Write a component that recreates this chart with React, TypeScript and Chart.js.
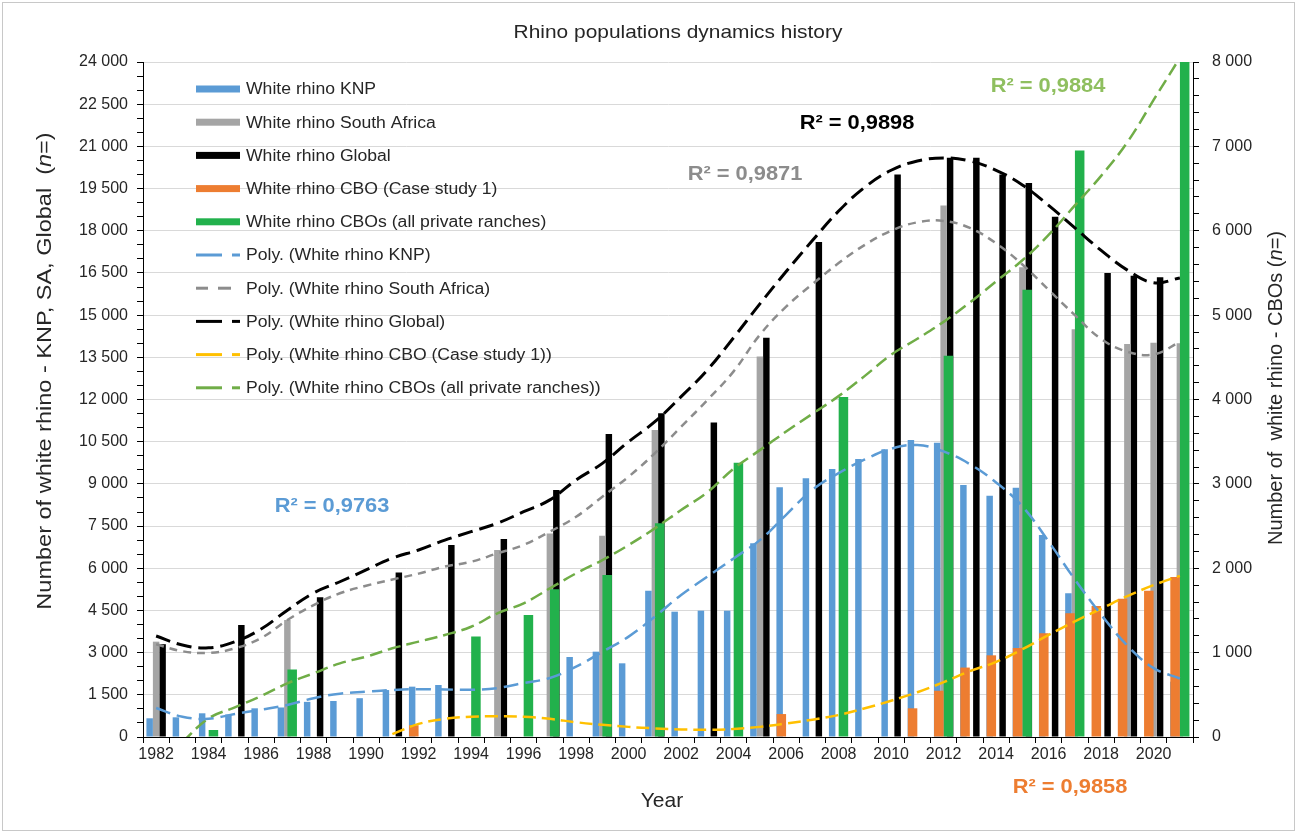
import { useEffect, useRef } from 'react';
import { Chart, registerables } from 'chart.js';

Chart.register(...registerables);

const years = ['1982','1983','1984','1985','1986','1987','1988','1989','1990','1991','1992','1993','1994','1995','1996','1997','1998','1999','2000','2001','2002','2003','2004','2005','2006','2007','2008','2009','2010','2011','2012','2013','2014','2015','2016','2017','2018','2019','2020','2021'];

// Bars – left axis
const knp = [665,700,843,800,1020,1050,1250,1280,1380,1670,1790,1850,null,null,null,null,2845,3034,2620,5203,4456,4492,4490,6890,8880,9200,9530,9886,10230,10560,10466,8961,8581,8866,7183,5110,null,null,null,1967];
const southAfrica = [3390,null,null,null,null,4160,null,null,null,null,null,null,null,6650,null,7240,null,7160,null,10917,null,null,null,13530,null,null,null,null,null,null,18900,null,null,16700,null,14500,null,13975,14020,14000];
const globalPop = [3300,null,null,3983,null,null,4970,null,null,5850,null,6830,null,7040,null,8780,null,10775,null,11510,null,11180,null,14200,null,17600,null,null,20000,null,20600,20600,20000,19700,18500,null,16500,16400,16350,null];
// Bars – right axis
const cboCase = [null,null,null,null,null,null,null,null,null,null,140,null,null,null,null,null,null,null,null,null,null,null,null,null,272,null,null,null,null,340,548,823,968,1055,1229,1466,1552,1640,1734,1895];
const cbosAll = [null,null,83,null,null,800,null,null,null,null,null,null,1190,null,1446,1750,null,1920,null,2532,null,null,3250,null,null,null,4030,null,null,null,4520,null,null,5300,null,6950,null,null,null,8000];

// Polynomial trend lines
const knpTrend = [1030,720,650,820,970,1140,1380,1540,1610,1670,1700,1690,1680,1740,1920,2100,2500,3030,3570,4280,5050,5700,6350,7000,7900,8790,9380,9870,10250,10380,10150,9700,9050,8200,6950,5600,4350,3250,2450,2080];
const saTrend = [3300,3050,2990,3150,3520,4160,4690,5110,5380,5600,5810,6060,6230,6530,6830,7300,7830,8545,9256,10090,11030,11980,13000,14300,15300,16100,16850,17500,18000,18300,18350,18100,17550,16800,15900,15000,14150,13700,13600,14050];
const globalTrend = [3590,3270,3170,3390,3840,4510,5120,5520,5940,6360,6650,7000,7300,7600,8010,8430,9140,9730,10500,11210,12100,13050,14200,15400,16550,17650,18700,19550,20150,20480,20590,20480,20150,19630,18900,18100,17300,16600,16150,16320];
const cboTrend = [null,null,null,null,null,null,null,null,null,35,155,215,240,245,240,215,175,145,120,102,90,85,95,120,160,205,260,340,430,530,650,780,890,1040,1210,1370,1520,1670,1800,1910];
const cbosTrend = [null,-60,221,352,486,636,755,873,952,1051,1130,1209,1307,1466,1584,1762,1940,2097,2275,2473,2690,2900,3180,3400,3620,3830,4040,4280,4530,4720,4920,5150,5400,5650,5950,6300,6650,7050,7550,8050];

const leftTickStep = 500;
const leftLabelStep = 1500;
const rightTickStep = 200;
const rightLabelStep = 1000;

const FONT = "'Liberation Sans', Arial, sans-serif";
const TEXT = '#262626';

const r2Labels = [
  { text: 'R² = 0,9763', color: '#5b9bd5', x: 332, y: 507 },
  { text: 'R² = 0,9871', color: '#8c8c8c', x: 745, y: 175 },
  { text: 'R² = 0,9898', color: '#000000', x: 857, y: 124 },
  { text: 'R² = 0,9884', color: '#8fbf5f', x: 1048, y: 87 },
  { text: 'R² = 0,9858', color: '#ed7d31', x: 1070, y: 788 },
];

function fmt(v: number): string {
  if (v >= 1000) {
    const th = Math.floor(v / 1000);
    const rest = String(v % 1000).padStart(3, '0');
    return th + ' ' + rest;
  }
  return String(v);
}

function drawStretched(ctx: CanvasRenderingContext2D, text: string, x: number, y: number, font: string, color: string, align: CanvasTextAlign, sx: number) {
  ctx.save();
  ctx.translate(x, y);
  ctx.scale(sx, 1);
  ctx.font = font;
  ctx.fillStyle = color;
  ctx.textAlign = align;
  ctx.textBaseline = 'middle';
  ctx.fillText(text, 0, 0);
  ctx.restore();
}

function drawRich(ctx: CanvasRenderingContext2D, parts: { t: string; i?: boolean }[], cx: number, cy: number, size: number, rotate: boolean, sx: number) {
  ctx.save();
  ctx.translate(cx, cy);
  if (rotate) ctx.rotate(-Math.PI / 2);
  ctx.scale(sx, 1);
  let total = 0;
  const widths = parts.map((p) => {
    ctx.font = `${p.i ? 'italic ' : ''}${size}px ${FONT}`;
    const w = ctx.measureText(p.t).width;
    total += w;
    return w;
  });
  let x = -total / 2;
  ctx.textAlign = 'left';
  ctx.textBaseline = 'middle';
  ctx.fillStyle = TEXT;
  parts.forEach((p, k) => {
    ctx.font = `${p.i ? 'italic ' : ''}${size}px ${FONT}`;
    ctx.fillText(p.t, x, 0);
    x += widths[k];
  });
  ctx.restore();
}

const overlay = {
  id: 'overlay',
  beforeDraw(chart: any) {
    const ctx = chart.ctx as CanvasRenderingContext2D;
    ctx.save();
    ctx.fillStyle = '#ffffff';
    ctx.fillRect(0, 0, chart.width, chart.height);
    ctx.restore();
  },
  afterDraw(chart: any) {
    const ctx = chart.ctx as CanvasRenderingContext2D;
    ctx.save();
    // outer frame
    ctx.strokeStyle = '#c8c8c8';
    ctx.lineWidth = 1;
    ctx.strokeRect(2.5, 2.5, chart.width - 5, chart.height - 5);

    // title
    drawStretched(ctx, 'Rhino populations dynamics history', 678, 33, `19px ${FONT}`, TEXT, 'center', 1.1);

    // axis titles
    drawRich(ctx, [{ t: 'Number of white rhino - KNP, SA, Global  (' }, { t: 'n', i: true }, { t: '=)' }], 45, 371, 21, true, 1.12);
    drawRich(ctx, [{ t: 'Number of  white rhino - CBOs (' }, { t: 'n', i: true }, { t: '=)' }], 1276, 388, 20, true, 1);
    drawRich(ctx, [{ t: 'Year' }], 662, 801, 21, false, 1);

    // legend
    const datasets = chart.data.datasets;
    let row = 0;
    datasets.forEach((ds: any) => {
      if (!ds.label) return;
      const y = 89 + row * 33.2;
      row += 1;
      const color = ds.legendColor;
      if (ds.type === 'bar') {
        ctx.fillStyle = color;
        ctx.fillRect(196, y - 3.5, 44, 7);
      } else {
        ctx.strokeStyle = color;
        ctx.lineWidth = 3;
        ctx.setLineDash([]);
        const segs = ds.legendKind === 'dash' ? [[196, 208], [218, 231]] : [[196, 222], [232, 240]];
        segs.forEach(([a, b]) => {
          ctx.beginPath();
          ctx.moveTo(a, y);
          ctx.lineTo(b, y);
          ctx.stroke();
        });
      }
      drawStretched(ctx, ds.label, 246, y + 1, `16px ${FONT}`, TEXT, 'left', 1.1);
    });

    // R² labels
    r2Labels.forEach((r) => {
      drawStretched(ctx, r.text, r.x, r.y, `bold 19.5px ${FONT}`, r.color, 'center', 1.12);
    });
    ctx.restore();
  },
};

export default function App() {
  const ref = useRef<HTMLCanvasElement>(null);

  useEffect(() => {
    document.body.style.margin = '0';
    Chart.defaults.font.family = FONT;
    // primary bars: three slots; secondary bars: wider bars sharing the outer slots
    const primaryBar = { borderWidth: 0, barPercentage: 1.0, categoryPercentage: 0.74, order: 3 };
    const secondaryBar = { borderWidth: 0, barPercentage: 1.98, categoryPercentage: 0.549 };
    const lineCommon = { pointRadius: 0, pointHoverRadius: 0, tension: 0.4, fill: false, order: 0 };
    const chart = new Chart(ref.current as HTMLCanvasElement, {
      type: 'bar',
      data: {
        labels: years,
        datasets: [
          { type: 'bar', label: 'White rhino KNP', data: knp, backgroundColor: '#5b9bd5', legendColor: '#5b9bd5', stack: 'A', yAxisID: 'y', ...primaryBar } as any,
          { type: 'bar', label: 'White rhino South Africa', data: southAfrica, backgroundColor: '#a5a5a5', legendColor: '#a5a5a5', stack: 'B', yAxisID: 'y', ...primaryBar } as any,
          { type: 'bar', label: 'White rhino Global', data: globalPop, backgroundColor: '#000000', legendColor: '#000000', stack: 'C', yAxisID: 'y', ...primaryBar } as any,
          { type: 'bar', label: 'White rhino CBO (Case study 1)', data: cboCase, backgroundColor: '#ed7d31', legendColor: '#ed7d31', stack: 'A', yAxisID: 'y1', order: 1, ...secondaryBar } as any,
          { type: 'bar', label: 'White rhino CBOs (all private ranches)', data: cbosAll, backgroundColor: '#22b14c', legendColor: '#22b14c', stack: 'C', yAxisID: 'y1', order: 2, ...secondaryBar } as any,
          { type: 'line', label: 'Poly. (White rhino KNP)', data: knpTrend, borderColor: '#5b9bd5', legendColor: '#5b9bd5', borderWidth: 2.5, borderDash: [15, 7], yAxisID: 'y', ...lineCommon } as any,
          { type: 'line', label: 'Poly. (White rhino South Africa)', data: saTrend, borderColor: '#8c8c8c', legendColor: '#8c8c8c', legendKind: 'dash', borderWidth: 2.5, borderDash: [8, 6], yAxisID: 'y', ...lineCommon } as any,
          { type: 'line', label: 'Poly. (White rhino Global)', data: globalTrend, borderColor: '#000000', legendColor: '#000000', borderWidth: 3, borderDash: [15, 7], yAxisID: 'y', ...lineCommon } as any,
          { type: 'line', label: 'Poly. (White rhino CBO (Case study 1))', data: cboTrend, borderColor: '#ffc000', legendColor: '#ffc000', borderWidth: 2.5, borderDash: [13, 6], yAxisID: 'y1', ...lineCommon } as any,
          { type: 'line', label: 'Poly. (White rhino CBOs (all private ranches))', data: cbosTrend, borderColor: '#70ad47', legendColor: '#70ad47', borderWidth: 2.5, borderDash: [13, 6], yAxisID: 'y1', ...lineCommon } as any,
          // empty slot holder so that the middle bar slot keeps its place in the group order
          { type: 'bar', label: '', data: [], stack: 'B', yAxisID: 'y1', order: 1.5, ...secondaryBar } as any,
        ],
      },
      options: {
        responsive: false,
        maintainAspectRatio: false,
        animation: false,
        devicePixelRatio: 1,
        layout: { padding: { top: 62, left: 0, right: 0, bottom: 0 } },
        plugins: {
          legend: { display: false },
          title: { display: false },
          tooltip: { enabled: false },
        },
        scales: {
          x: {
            type: 'category',
            position: 'bottom',
            offset: true,
            grid: { offset: true, drawOnChartArea: false, drawTicks: true, tickLength: 6, tickColor: '#000000' },
            border: { color: '#000000', width: 1 },
            ticks: {
              autoSkip: false,
              maxRotation: 0,
              minRotation: 0,
              padding: 2,
              color: TEXT,
              font: { size: 16, family: FONT },
              callback: (_v: any, i: number) => (i % 2 === 0 ? years[i] : ''),
            },
            afterFit: (s: any) => { s.height = 96; },
          },
          y: {
            type: 'linear',
            position: 'left',
            min: 0,
            max: 24000,
            border: { color: '#000000', width: 1 },
            grid: {
              color: (c: any) => (c.tick && c.tick.value % leftLabelStep === 0 ? '#d9d9d9' : 'rgba(0,0,0,0)'),
              tickColor: '#000000',
              tickLength: 6,
              lineWidth: 1,
            },
            ticks: {
              stepSize: leftTickStep,
              maxTicksLimit: 100,
              autoSkip: false,
              padding: 9,
              color: TEXT,
              font: { size: 16, family: FONT },
              callback: (v: any) => (Number(v) % leftLabelStep === 0 ? fmt(Number(v)) : ''),
            },
            afterFit: (s: any) => { s.width = 143; },
          },
          y1: {
            type: 'linear',
            position: 'right',
            min: 0,
            max: 8000,
            border: { color: '#000000', width: 1 },
            grid: { drawOnChartArea: false, tickColor: '#000000', tickLength: 6 },
            ticks: {
              stepSize: rightTickStep,
              maxTicksLimit: 100,
              autoSkip: false,
              padding: 13,
              color: TEXT,
              font: { size: 16, family: FONT },
              callback: (v: any) => (Number(v) % rightLabelStep === 0 ? fmt(Number(v)) : ''),
            },
            afterFit: (s: any) => { s.width = 104; },
          },
        },
      } as any,
      plugins: [overlay],
    });
    return () => chart.destroy();
  }, []);

  return (
    <div style={{ position: 'relative', width: 1297, height: 833 }}>
      <canvas ref={ref} width={1297} height={833} style={{ display: 'block', width: 1297, height: 833 }} />
    </div>
  );
}
